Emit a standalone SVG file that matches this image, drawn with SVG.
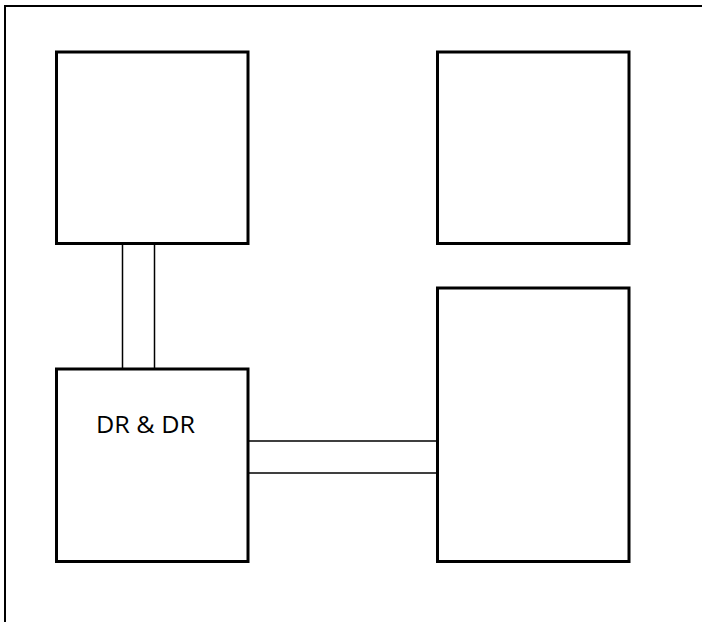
<svg xmlns="http://www.w3.org/2000/svg" width="702" height="622" viewBox="0 0 702 622">
<style>
.box{fill:#fff;stroke:#000;stroke-width:3}
.conn{fill:#fff;stroke:#000;stroke-width:1.5}
.frame{fill:none;stroke:#000;stroke-width:2}
.lbl{font-family:"Open Sans",sans-serif;font-size:24.5px;fill:#000}
</style>
<rect class="frame" x="5" y="6" width="720" height="640"/>
<g id="connectors">
<rect class="conn" x="122.5" y="243" width="32" height="126"/>
<rect class="conn" x="248" y="441" width="190" height="32"/>
</g>
<g id="box1"><rect class="box" x="56.5" y="52" width="191.5" height="191.5"/></g>
<g id="box2"><rect class="box" x="437.5" y="52" width="191.5" height="191.5"/></g>
<g id="box3"><rect class="box" x="56.5" y="369" width="191.5" height="192.5"/><text class="lbl" x="96" y="433" textLength="99" lengthAdjust="spacingAndGlyphs">DR &amp; DR</text></g>
<g id="box4"><rect class="box" x="437.5" y="288" width="191.5" height="273.5"/></g>
</svg>
